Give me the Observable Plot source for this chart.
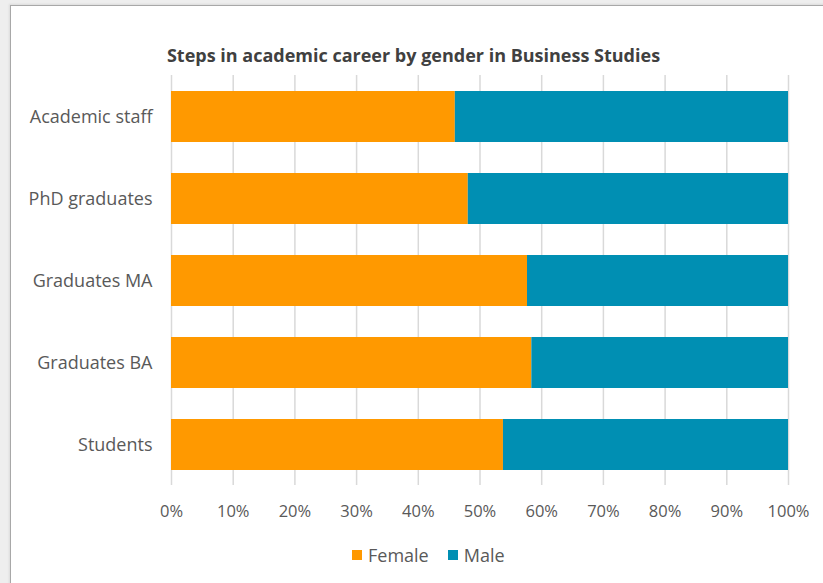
<!DOCTYPE html>
<html>
<head>
<meta charset="utf-8">
<script src="https://cdn.jsdelivr.net/npm/d3@7"></script>
<script src="https://cdn.jsdelivr.net/npm/@observablehq/plot@0.6"></script>
<style>
  html, body { margin: 0; padding: 0; }
  body { width: 823px; height: 583px; overflow: hidden; background: #eeeeee; font-family: "Open Sans", "Noto Sans", sans-serif; }
  #card { position: absolute; left: 10px; top: 5px; width: 840px; height: 620px; background: #ffffff; border: 1px solid #a8a8a8; box-shadow: -1px -1px 2px rgba(0,0,0,0.08); }
  #title { position: absolute; left: 0; top: 43px; width: 827px; text-align: center; font-size: 18px; line-height: 24px; font-weight: 700; color: #404040; }
  #chart { position: absolute; left: 0; top: 66px; }
  #legend { position: absolute; left: 352px; top: 543px; display: flex; align-items: center; font-size: 18px; color: #595959; line-height: 24px; }
  .sw { display: inline-block; width: 10px; height: 10px; margin-right: 6px; }
</style>
</head>
<body>
<div id="card"></div>
<div id="title">Steps in academic career by gender in Business Studies</div>
<div id="chart"></div>
<div id="legend"></div>
<script>
const categories = ["Academic staff", "PhD graduates", "Graduates MA", "Graduates BA", "Students"];
const genders = ["Female", "Male"];
const femaleValues = [46.0, 48.1, 57.7, 58.4, 53.8];
const maleValues = [54.0, 51.9, 42.3, 41.6, 46.2];
const xTicks = [0, 10, 20, 30, 40, 50, 60, 70, 80, 90, 100];
const colors = ["#ff9900", "#008fb3"];

const rows = [];
categories.forEach((c, i) => {
  rows.push({category: c, gender: "Female", value: femaleValues[i]});
  rows.push({category: c, gender: "Male", value: maleValues[i]});
});

const chart = Plot.plot({
  width: 823,
  height: 460,
  marginLeft: 171,
  marginRight: 35,
  marginTop: 9,
  marginBottom: 41,
  style: {fontFamily: '"Open Sans", "Noto Sans", sans-serif', background: "transparent", overflow: "visible"},
  x: {domain: [0, 100], ticks: xTicks},
  y: {domain: categories, paddingInner: 0.38, paddingOuter: 0.19, align: 0.5},
  color: {domain: genders, range: colors},
  marks: [
    Plot.gridX(xTicks, {stroke: "#d9d9d9", strokeOpacity: 1, strokeWidth: 1.5}),
    Plot.barX(rows, Plot.stackX({x: "value", y: "category", fill: "gender", order: genders})),
    Plot.axisX(xTicks, {tickSize: 0, tickPadding: 20, tickFormat: d => d + "%", fontSize: 16.5, fill: "#595959", label: null}),
    Plot.axisY({tickSize: 0, tickPadding: 19, fontSize: 18, fill: "#595959", label: null})
  ]
});
document.getElementById("chart").appendChild(chart);

const legend = document.getElementById("legend");
genders.forEach((g, i) => {
  const item = document.createElement("span");
  item.style.display = "inline-flex";
  item.style.alignItems = "center";
  item.style.marginRight = i === 0 ? "19px" : "0";
  const sw = document.createElement("span");
  sw.className = "sw";
  sw.style.background = colors[i];
  const t = document.createElement("span");
  t.textContent = g;
  item.appendChild(sw);
  item.appendChild(t);
  legend.appendChild(item);
});
</script>
</body>
</html>
